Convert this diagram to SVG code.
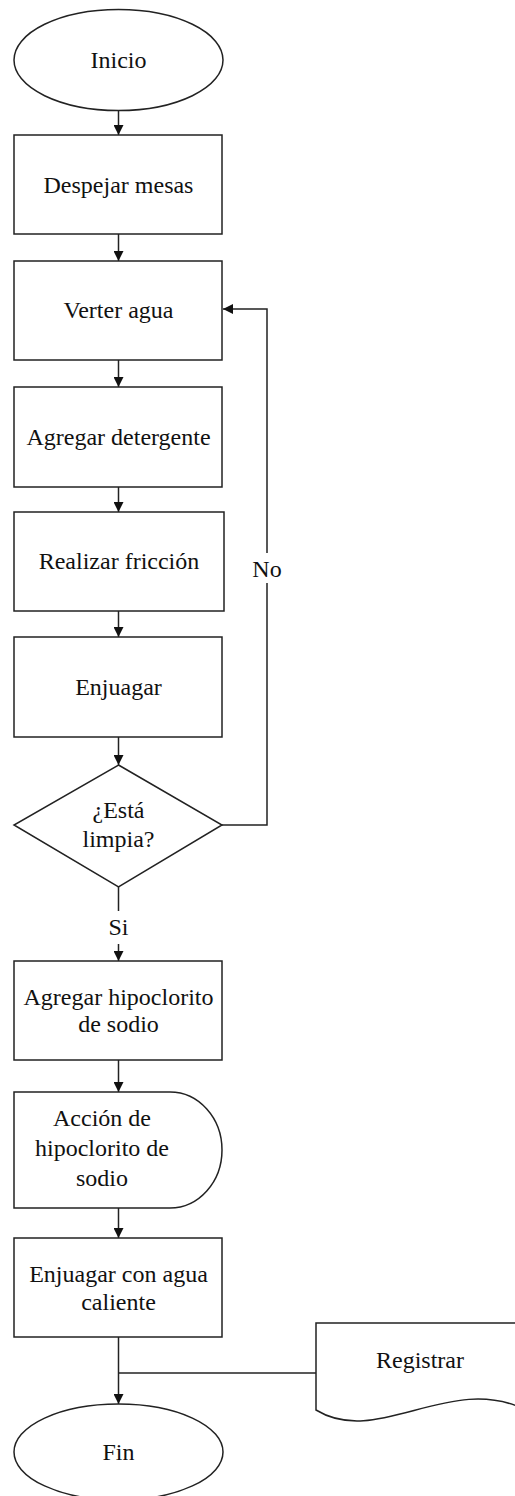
<svg xmlns="http://www.w3.org/2000/svg" width="515" height="1496" viewBox="0 0 515 1496">
  <style>
    .shape { fill: #ffffff; stroke: #222222; stroke-width: 1.5; }
    .conn { fill: none; stroke: #222222; stroke-width: 1.5; }
    text { font-family: "Liberation Serif", "Times New Roman", serif; font-size: 24px; fill: #111111; text-anchor: middle; }
  </style>
  <defs>
    <marker id="arrow" viewBox="0 0 10 10" refX="10" refY="5" markerWidth="10" markerHeight="10" markerUnits="userSpaceOnUse" orient="auto">
      <path d="M0,0 L10,5 L0,10 Z" fill="#111111"/>
    </marker>
  </defs>
  <rect width="515" height="1496" fill="#ffffff"/>

  <!-- connectors -->
  <g id="connectors">
    <path class="conn" d="M118.5,110 V135" marker-end="url(#arrow)"/>
    <path class="conn" d="M118.5,234 V261" marker-end="url(#arrow)"/>
    <path class="conn" d="M118.5,360 V387" marker-end="url(#arrow)"/>
    <path class="conn" d="M118.5,487 V512" marker-end="url(#arrow)"/>
    <path class="conn" d="M118.5,611 V637" marker-end="url(#arrow)"/>
    <path class="conn" d="M118.5,737 V765" marker-end="url(#arrow)"/>
    <!-- "No" loop back to Verter agua -->
    <path class="conn" d="M222,825 H267 V583 M267,553 V309 H223" marker-end="url(#arrow)"/>
    <text x="267" y="577">No</text>
    <!-- "Si" branch -->
    <path class="conn" d="M118.5,887 V911 M118.5,944 V961" marker-end="url(#arrow)"/>
    <text x="118.5" y="935">Si</text>
    <path class="conn" d="M118.5,1060 V1092" marker-end="url(#arrow)"/>
    <path class="conn" d="M118.5,1208 V1238" marker-end="url(#arrow)"/>
    <path class="conn" d="M118.5,1337 V1404" marker-end="url(#arrow)"/>
    <path class="conn" d="M118.5,1373 H316"/>
  </g>

  <g id="inicio">
    <ellipse class="shape" cx="118.5" cy="60" rx="104.5" ry="50.5"/>
    <text x="118.5" y="68">Inicio</text>
  </g>

  <g id="despejar">
    <rect class="shape" x="14" y="135" width="208" height="99"/>
    <text x="118.5" y="193">Despejar mesas</text>
  </g>

  <g id="verter">
    <rect class="shape" x="14" y="261" width="208" height="99"/>
    <text x="118.5" y="318">Verter agua</text>
  </g>

  <g id="detergente">
    <rect class="shape" x="14" y="387" width="208" height="100"/>
    <text x="118.5" y="445">Agregar detergente</text>
  </g>

  <g id="friccion">
    <rect class="shape" x="14" y="512" width="210" height="99"/>
    <text x="119" y="569">Realizar fricción</text>
  </g>

  <g id="enjuagar">
    <rect class="shape" x="14" y="637" width="208" height="100"/>
    <text x="118.5" y="695">Enjuagar</text>
  </g>

  <g id="decision">
    <polygon class="shape" points="118.5,765 222,825 118.5,887 14,825"/>
    <text x="118.5" y="818">¿Está</text>
    <text x="118.5" y="847">limpia?</text>
  </g>

  <g id="hipoclorito">
    <rect class="shape" x="14" y="961" width="208" height="99"/>
    <text x="118.5" y="1005">Agregar hipoclorito</text>
    <text x="118.5" y="1032">de sodio</text>
  </g>

  <g id="accion">
    <path class="shape" d="M14,1092 H170 A52,58 0 0 1 170,1208 H14 Z"/>
    <text x="102" y="1126">Acción de</text>
    <text x="102" y="1156">hipoclorito de</text>
    <text x="102" y="1186">sodio</text>
  </g>

  <g id="enjuagar-caliente">
    <rect class="shape" x="14" y="1238" width="208" height="99"/>
    <text x="118.5" y="1282">Enjuagar con agua</text>
    <text x="118.5" y="1310">caliente</text>
  </g>

  <g id="registrar">
    <path class="shape" d="M316,1410 V1323 H526 V1410 C450,1372 378,1448 316,1410 Z"/>
    <text x="420" y="1368">Registrar</text>
  </g>

  <g id="fin">
    <ellipse class="shape" cx="118.5" cy="1452" rx="104.5" ry="48"/>
    <text x="118.5" y="1460">Fin</text>
  </g>
</svg>
